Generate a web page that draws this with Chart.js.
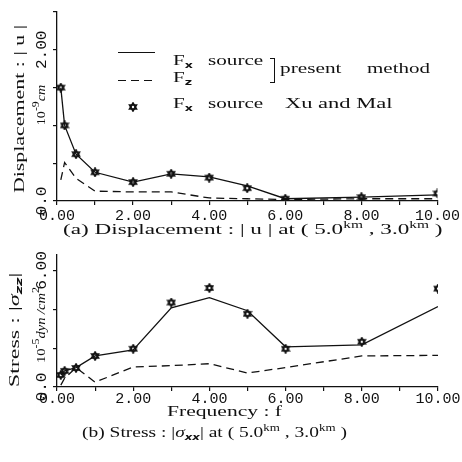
<!DOCTYPE html>
<html>
<head>
<meta charset="utf-8">
<script src="https://cdn.jsdelivr.net/npm/chart.js@4.4.1/dist/chart.umd.min.js"></script>
<style>
  body { margin: 0; background: #fff; }
  #wrap { position: relative; width: 462px; height: 462px; overflow: hidden;
          font-family: "Liberation Serif", "DejaVu Serif", serif; color: #111; }
  canvas { position: absolute; left: 0; }
  .t { position: absolute; white-space: pre; font-size: 15px; line-height: 15px;
       transform-origin: 0 0; }
  .rot { position: absolute; white-space: pre; font-size: 15px; line-height: 15px; }
  .t sup, .rot sup { font-size: 10px; vertical-align: 0; position: relative; top: -6px; }
  .t sub, .rot sub { font-size: 9px; vertical-align: 0; position: relative; top: 3px;
       font-family: "DejaVu Sans", sans-serif; font-weight: bold; }
  .line { position: absolute; height: 0; width: 37px; border-top: 1.3px solid #111; }
  .dash { position: absolute; height: 1.3px; width: 37px;
          background: repeating-linear-gradient(90deg, #111 0 8px, transparent 8px 13px); }
  .brk { position: absolute; width: 4px; border: 1.3px solid #111; border-left: none; }
</style>
</head>
<body>
<div id="wrap">
  <canvas id="top" width="462" height="222" style="top:0"></canvas>
  <canvas id="bot" width="462" height="170" style="top:245px"></canvas>
</div>
<script>
// frequency points shared by both panels
const freq = [0.1, 0.2, 0.5, 1, 2, 3, 4, 5, 6, 8, 10];

// (a) displacement |u|, 10^-9 cm
const dispFx = [1.5, 1.0, 0.62, 0.38, 0.25, 0.36, 0.32, 0.2, 0.03, 0.05, 0.08];
const dispFz = [0.28, 0.51, 0.3, 0.13, 0.12, 0.12, 0.04, 0.03, 0.02, 0.03, 0.03];
const dispXuMal = [1.5, 1.0, 0.62, 0.38, 0.25, 0.36, 0.31, 0.17, 0.03, 0.05, 0.1];

// (b) stress |sigma_zz|, 10^-5 dyn/cm^2
const stressFx = [0.62, 0.83, 1.0, 1.6, 1.91, 4.08, 4.6, 3.93, 2.07, 2.17, 4.14];
const stressFz = [0.1, 0.45, 1.0, 0.25, 1.03, 1.1, 1.2, 0.72, 1.0, 1.6, 1.63];
const stressXuMal = [0.62, 0.83, 0.98, 1.6, 1.97, 4.35, 5.1, 3.77, 1.97, 2.33, 5.07];

// axis ticks
const xTicks = [0, 1, 2, 3, 4, 5, 6, 7, 8, 9, 10];
const dispYTicks = [0, 0.5, 1, 1.5, 2, 2.5];
const dispYLabelVals = [0, 2];
const dispYLabels = ["0.0", "2.00"];
const stressYTicks = [0, 2, 4, 6];
const stressYLabelVals = [0, 6];
const stressYLabels = ["0.0", "6.00"];

const INK = "#111";

// six pointed star marker
function hexStar(size) {
  const c = document.createElement("canvas");
  c.width = c.height = size;
  const g = c.getContext("2d");
  const r = size / 2 - 1, m = size / 2;
  const tri = (off) => {
    g.beginPath();
    for (let i = 0; i < 3; i++) {
      const a = off + i * 2 * Math.PI / 3;
      g.lineTo(m + r * Math.cos(a), m + r * Math.sin(a));
    }
    g.closePath();
  };
  g.fillStyle = "#fff"; g.strokeStyle = INK; g.lineWidth = 1.6;
  tri(-Math.PI / 2); g.fill(); tri(Math.PI / 2); g.fill();
  tri(-Math.PI / 2); g.stroke(); tri(Math.PI / 2); g.stroke();
  return c;
}
const star = hexStar(10);

const pts = (ys) => freq.map((f, i) => ({ x: f, y: ys[i] }));

// rotated y tick labels, drawn at the scale's own tick pixels
const yLabelPlugin = {
  id: "yLabels",
  afterDraw(chart, args, opts) {
    const ys = chart.scales.y, ctx = chart.ctx;
    ctx.save();
    ctx.font = '14px "Liberation Mono", monospace';
    ctx.fillStyle = INK;
    ctx.textAlign = "center";
    ctx.textBaseline = "middle";
    opts.vals.forEach((v, i) => {
      ctx.save();
      ctx.translate(opts.x, ys.getPixelForValue(v));
      ctx.rotate(-Math.PI / 2);
      ctx.scale(1.15, 1);
      ctx.fillText(opts.labels[i], 0, 0);
      ctx.restore();
    });
    ctx.restore();
  }
};

function panel(id, solid, dashed, stars, yMax, yTicks, yVals, yLabels, padTop, xAxisH, xPad) {
  return new Chart(document.getElementById(id), {
    type: "line",
    data: {
      datasets: [
        { data: pts(solid), borderColor: INK, borderWidth: 1.3, pointRadius: 0, tension: 0 },
        { data: pts(dashed), borderColor: INK, borderWidth: 1.3, borderDash: [8, 5], pointRadius: 0, tension: 0 },
        { data: pts(stars), showLine: false, pointStyle: star, pointRadius: 5 }
      ]
    },
    options: {
      responsive: false,
      animation: false,
      layout: { padding: { top: padTop, right: 24, left: 0, bottom: 0 } },
      plugins: {
        legend: { display: false },
        tooltip: { enabled: false },
        yLabels: { x: 42, vals: yVals, labels: yLabels }
      },
      scales: {
        x: {
          type: "linear", min: 0, max: 10,
          afterBuildTicks: (s) => { s.ticks = xTicks.map(v => ({ value: v })); },
          afterFit: (s) => { s.height = xAxisH; },
          ticks: {
            autoSkip: false, maxRotation: 0, padding: xPad, color: INK,
            font: { family: '"Liberation Mono", monospace', size: 15 },
            callback: (v) => (v % 2 === 0 ? v.toFixed(2) : "")
          },
          grid: { drawOnChartArea: false, tickLength: 4, color: INK, lineWidth: 1.2 },
          border: { color: INK, width: 1.3 }
        },
        y: {
          min: 0, max: yMax,
          afterBuildTicks: (s) => { s.ticks = yTicks.map(v => ({ value: v })); },
          afterFit: (s) => { s.width = 57; },
          ticks: { display: false },
          grid: { drawOnChartArea: false, tickLength: 4, color: INK, lineWidth: 1.2 },
          border: { color: INK, width: 1.3 }
        }
      }
    },
    plugins: [yLabelPlugin]
  });
}

panel("top", dispFx, dispFz, dispXuMal, 2.5, dispYTicks, dispYLabelVals, dispYLabels, 12, 21, 2);
panel("bot", stressFx, stressFz, stressXuMal, 6.8, stressYTicks, stressYLabelVals, stressYLabels, 10, 28, -1);

// ---- text (html) ----
const wrap = document.getElementById("wrap");

// horizontal text: left edge, baseline, target width
function text(html, left, base, width) {
  const el = document.createElement("div");
  el.className = "t";
  el.innerHTML = html;
  el.style.left = left + "px";
  el.style.top = (base - 12.5) + "px";
  wrap.appendChild(el);
  const s = width ? width / el.offsetWidth : 1.4;
  el.style.transform = "scaleX(" + s + ")";
  return el;
}

// vertical text read bottom to top: centre and length
function vtext(html, cx, cy, len, size) {
  const el = document.createElement("div");
  el.className = "rot";
  el.innerHTML = html;
  if (size) { el.style.fontSize = size + "px"; }
  wrap.appendChild(el);
  const s = len / el.offsetWidth;
  el.style.left = cx + "px";
  el.style.top = cy + "px";
  el.style.transform = "translate(-50%,-50%) rotate(-90deg) scaleX(" + s + ")";
  return el;
}

function box(cls, left, top, h) {
  const el = document.createElement("div");
  el.className = cls;
  el.style.left = left + "px";
  el.style.top = top + "px";
  if (h) { el.style.height = h + "px"; }
  wrap.appendChild(el);
}

// legend
box("line", 118, 52);
text("F<sub>x</sub>", 173, 65);
text("source", 208, 65, 55);
box("dash", 118, 79.5);
text("F<sub>z</sub>", 173, 82);
box("brk", 270, 58, 23);
text("present", 280, 73, 61);
text("method", 367, 73, 63);
const ls = document.createElement("canvas");
ls.width = ls.height = 10;
ls.style.cssText = "position:absolute;left:128px;top:102px";
ls.getContext("2d").drawImage(star, 0, 0);
wrap.appendChild(ls);
text("F<sub>x</sub>", 173, 108);
text("source", 208, 108, 55);
text("Xu and Mal", 285, 108, 108);

// axis titles and units
vtext("Displacement : | u |", 19, 109, 168);
vtext("10<sup>-9</sup><i>cm</i>", 41, 105, 40, 12);
vtext("Stress : |<i>σ</i><sub><i>zz</i></sub>|", 15, 330, 114);
vtext("10<sup>-5</sup><i>dyn /cm</i><sup>2</sup>", 41, 325, 76, 12);

// captions
text("(a) Displacement : | u | at ( 5.0<sup>km</sup> , 3.0<sup>km</sup> )", 63, 234, 380);
text("Frequency : f", 167, 416, 115);
text("(b) Stress : |<i>σ</i><sub><i>xx</i></sub>| at ( 5.0<sup>km</sup> , 3.0<sup>km</sup> )", 82, 437, 265);
</script>
</body>
</html>
